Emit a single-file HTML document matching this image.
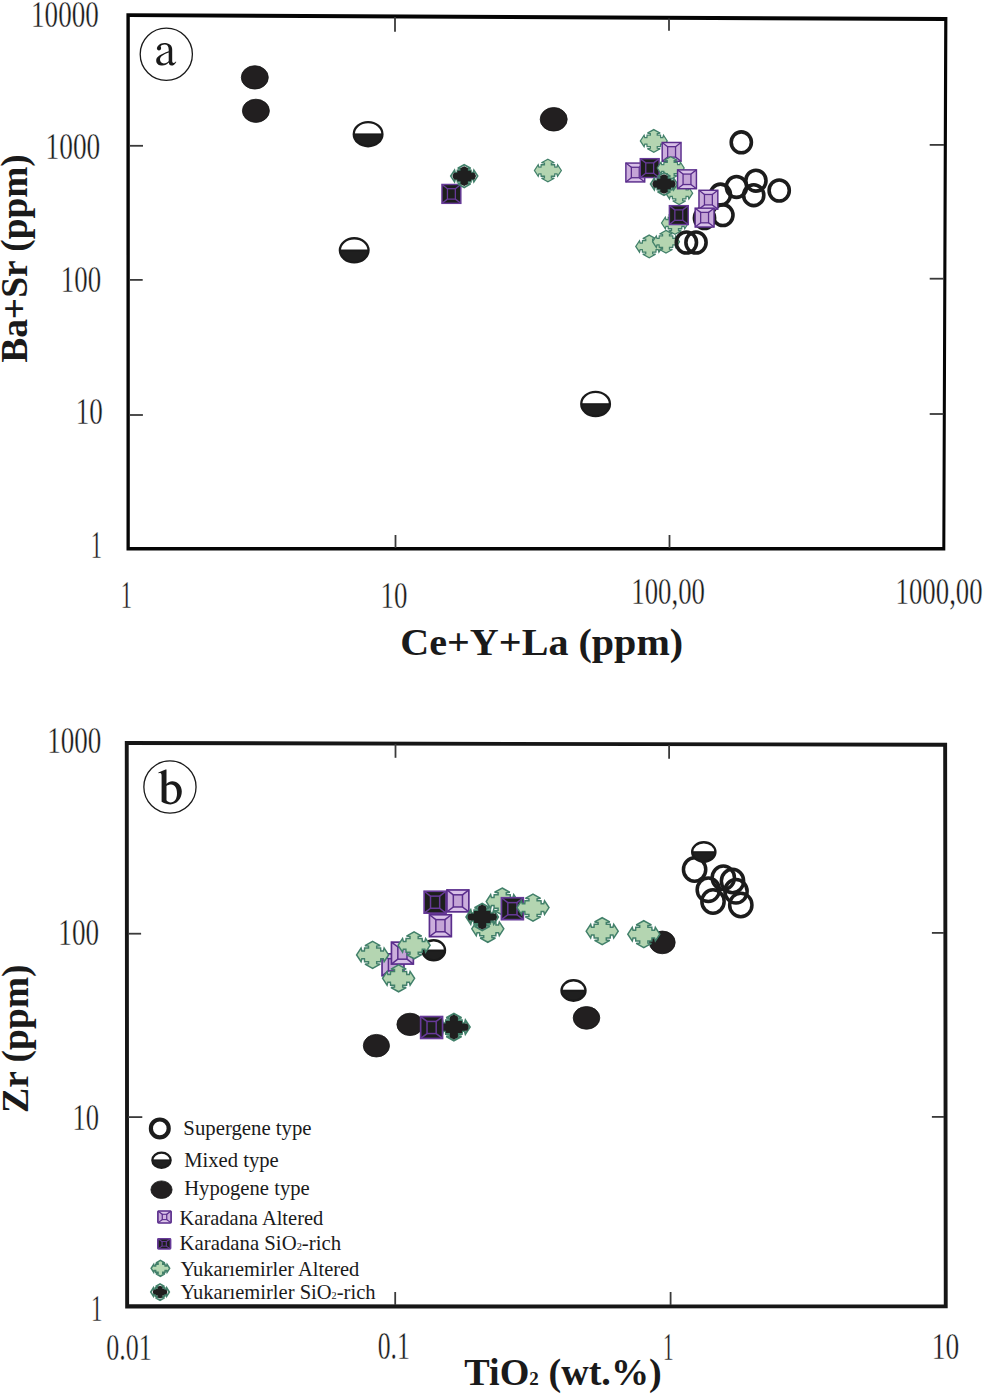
<!DOCTYPE html>
<html><head><meta charset="utf-8"><style>
html,body{margin:0;padding:0;background:#fff;}
svg{display:block;}
text{font-family:"Liberation Serif",serif;font-size:100px;}
</style></head><body>
<svg width="983" height="1394" viewBox="0 0 983 1394">
<rect width="983" height="1394" fill="#ffffff"/>

<defs>
 <g id="ya"><path d="M0.00 -13.48 L7.61 -9.25 L4.10 -8.79 L4.10 -6.84 L8.01 -6.84 L8.21 -3.91 L10.74 -3.91 L11.53 -6.84 L16.01 0.00 L11.53 6.84 L10.74 3.91 L8.21 3.91 L8.01 6.84 L4.10 6.84 L4.10 8.79 L7.61 9.25 L0.00 13.48 L-7.61 9.25 L-4.10 8.79 L-4.10 6.84 L-8.01 6.84 L-8.21 3.91 L-10.74 3.91 L-11.53 6.84 L-16.01 0.00 L-11.53 -6.84 L-10.74 -3.91 L-8.21 -3.91 L-8.01 -6.84 L-4.10 -6.84 L-4.10 -8.79 L-7.61 -9.25Z" fill="#b4d5b1" stroke="#42806a" stroke-width="1.5" stroke-linejoin="miter" stroke-miterlimit="3"/></g>
 <g id="ys"><path d="M0.00 -13.48 L7.61 -9.25 L4.10 -8.79 L4.10 -6.84 L8.01 -6.84 L8.21 -3.91 L10.74 -3.91 L11.53 -6.84 L16.01 0.00 L11.53 6.84 L10.74 3.91 L8.21 3.91 L8.01 6.84 L4.10 6.84 L4.10 8.79 L7.61 9.25 L0.00 13.48 L-7.61 9.25 L-4.10 8.79 L-4.10 6.84 L-8.01 6.84 L-8.21 3.91 L-10.74 3.91 L-11.53 6.84 L-16.01 0.00 L-11.53 -6.84 L-10.74 -3.91 L-8.21 -3.91 L-8.01 -6.84 L-4.10 -6.84 L-4.10 -8.79 L-7.61 -9.25Z" fill="#ffffff" stroke="#42806a" stroke-width="1.9" stroke-miterlimit="3"/><path d="M0.00 -12.50 L4.00 -10.40 L4.00 -6.00 L8.20 -6.00 L8.20 -3.60 L13.40 -3.60 L14.90 0.00 L13.40 3.60 L8.20 3.60 L8.20 6.00 L4.00 6.00 L4.00 10.40 L0.00 12.50 L-4.00 10.40 L-4.00 6.00 L-8.20 6.00 L-8.20 3.60 L-13.40 3.60 L-14.90 0.00 L-13.40 -3.60 L-8.20 -3.60 L-8.20 -6.00 L-4.00 -6.00 L-4.00 -10.40Z" fill="#1f1f1f"/></g>
 <g id="ka">
  <rect x="-11" y="-11" width="22" height="22" fill="#cbaedc"/>
  <path d="M-11 -11 L11 -11 L4.6 -6.1 L-4.6 -6.1Z M-11 11 L11 11 L4.6 6.1 L-4.6 6.1Z" fill="#d8c0e7"/>
  <rect x="-4.6" y="-6.1" width="9.2" height="12.2" fill="#c4a4d6"/>
  <path d="M-11 -11 L-4.6 -6.1 M11 -11 L4.6 -6.1 M11 11 L4.6 6.1 M-11 11 L-4.6 6.1" stroke="#5a2d8c" stroke-width="1.5"/>
  <rect x="-4.6" y="-6.1" width="9.2" height="12.2" fill="none" stroke="#5a2d8c" stroke-width="1.5"/>
  <rect x="-11" y="-11" width="22" height="22" fill="none" stroke="#5a2d8c" stroke-width="1.7"/>
 </g>
 <g id="ks">
  <rect x="-11" y="-11" width="22" height="22" fill="#1d1f1c"/>
  <path d="M-11 -11 L-4.6 -6.1 M11 -11 L4.6 -6.1 M11 11 L4.6 6.1 M-11 11 L-4.6 6.1" stroke="#673a98" stroke-width="1.5"/>
  <rect x="-4.6" y="-6.1" width="9.2" height="12.2" fill="none" stroke="#673a98" stroke-width="1.5"/>
  <rect x="-11" y="-11" width="22" height="22" fill="none" stroke="#673a98" stroke-width="1.7"/>
 </g>
 <g id="yaL"><path d="M0.00 -13.20 L7.45 -9.06 L4.01 -8.61 L4.01 -6.69 L7.84 -6.69 L8.04 -3.83 L10.52 -3.83 L11.29 -6.69 L15.68 0.00 L11.29 6.69 L10.52 3.83 L8.04 3.83 L7.84 6.69 L4.01 6.69 L4.01 8.61 L7.45 9.06 L0.00 13.20 L-7.45 9.06 L-4.01 8.61 L-4.01 6.69 L-7.84 6.69 L-8.04 3.83 L-10.52 3.83 L-11.29 6.69 L-15.68 0.00 L-11.29 -6.69 L-10.52 -3.83 L-8.04 -3.83 L-7.84 -6.69 L-4.01 -6.69 L-4.01 -8.61 L-7.45 -9.06Z" fill="#b6d8b3" stroke="#42806a" stroke-width="2.6" stroke-miterlimit="3"/></g>
 <g id="ysL"><path d="M0.00 -13.20 L7.45 -9.06 L4.01 -8.61 L4.01 -6.69 L7.84 -6.69 L8.04 -3.83 L10.52 -3.83 L11.29 -6.69 L15.68 0.00 L11.29 6.69 L10.52 3.83 L8.04 3.83 L7.84 6.69 L4.01 6.69 L4.01 8.61 L7.45 9.06 L0.00 13.20 L-7.45 9.06 L-4.01 8.61 L-4.01 6.69 L-7.84 6.69 L-8.04 3.83 L-10.52 3.83 L-11.29 6.69 L-15.68 0.00 L-11.29 -6.69 L-10.52 -3.83 L-8.04 -3.83 L-7.84 -6.69 L-4.01 -6.69 L-4.01 -8.61 L-7.45 -9.06Z" fill="#ffffff" stroke="#42806a" stroke-width="2.8" stroke-miterlimit="3"/><path d="M0.00 -10.33 L3.86 -8.57 L3.86 -5.54 L7.22 -5.54 L7.22 -3.61 L10.92 -3.61 L12.43 0.00 L10.92 3.61 L7.22 3.61 L7.22 5.54 L3.86 5.54 L3.86 8.57 L0.00 10.33 L-3.86 8.57 L-3.86 5.54 L-7.22 5.54 L-7.22 3.61 L-10.92 3.61 L-12.43 0.00 L-10.92 -3.61 L-7.22 -3.61 L-7.22 -5.54 L-3.86 -5.54 L-3.86 -8.57Z" fill="#1f1f1f"/></g>
 <g id="ysA"><path d="M0.00 -13.48 L7.61 -9.25 L4.10 -8.79 L4.10 -6.84 L8.01 -6.84 L8.21 -3.91 L10.74 -3.91 L11.53 -6.84 L16.01 0.00 L11.53 6.84 L10.74 3.91 L8.21 3.91 L8.01 6.84 L4.10 6.84 L4.10 8.79 L7.61 9.25 L0.00 13.48 L-7.61 9.25 L-4.10 8.79 L-4.10 6.84 L-8.01 6.84 L-8.21 3.91 L-10.74 3.91 L-11.53 6.84 L-16.01 0.00 L-11.53 -6.84 L-10.74 -3.91 L-8.21 -3.91 L-8.01 -6.84 L-4.10 -6.84 L-4.10 -8.79 L-7.61 -9.25Z" fill="#ffffff" stroke="#42806a" stroke-width="2.0" stroke-miterlimit="3"/><path d="M0.00 -11.69 L4.37 -9.69 L4.37 -6.27 L8.17 -6.27 L8.17 -4.08 L12.35 -4.08 L14.06 0.00 L12.35 4.08 L8.17 4.08 L8.17 6.27 L4.37 6.27 L4.37 9.69 L0.00 11.69 L-4.37 9.69 L-4.37 6.27 L-8.17 6.27 L-8.17 4.08 L-12.35 4.08 L-14.06 0.00 L-12.35 -4.08 L-8.17 -4.08 L-8.17 -6.27 L-4.37 -6.27 L-4.37 -9.69Z" fill="#1f1f1f"/></g>
 <g id="kaL">
  <rect x="-11" y="-11" width="22" height="22" rx="1.5" fill="#cbaedc"/>
  <path d="M-11 -11 L11 -11 L3.7 -4.9 L-3.7 -4.9Z M-11 11 L11 11 L3.7 4.9 L-3.7 4.9Z" fill="#dcc6ea"/>
  <rect x="-3.7" y="-4.9" width="7.4" height="9.8" fill="#d0b4e0"/>
  <path d="M-11 -11 L-3.7 -4.9 M11 -11 L3.7 -4.9 M11 11 L3.7 4.9 M-11 11 L-3.7 4.9" stroke="#5a2d8c" stroke-width="2"/>
  <rect x="-3.7" y="-4.9" width="7.4" height="9.8" fill="none" stroke="#5a2d8c" stroke-width="2"/>
  <rect x="-11" y="-11" width="22" height="22" rx="1.5" fill="none" stroke="#5a2d8c" stroke-width="2.8"/>
 </g>
 <g id="ksL">
  <rect x="-11" y="-11" width="22" height="22" rx="1.5" fill="#1d1f1c"/>
  <path d="M-11 -11 L-3.7 -4.9 M11 -11 L3.7 -4.9 M11 11 L3.7 4.9 M-11 11 L-3.7 4.9" stroke="#673a98" stroke-width="2"/>
  <rect x="-3.7" y="-4.9" width="7.4" height="9.8" fill="none" stroke="#673a98" stroke-width="2"/>
  <rect x="-11" y="-11" width="22" height="22" rx="1.5" fill="none" stroke="#673a98" stroke-width="3"/>
 </g>
</defs>

<path fill-rule="evenodd" fill="#050505" d="M126.4 13.2 L947.4 17.0 L945.3 550.4 L126.5 550.4 Z M129.8 17.1 L944.2 21.0 L942.3 547.0 L129.8 547.0 Z"/>
<path fill-rule="evenodd" fill="#161616" d="M124.8 741.1 L947.1 742.8 L947.7 1308.3 L125.2 1308.5 Z M128.7 744.9 L943.2 746.7 L943.8 1304.6 L129.1 1304.2 Z"/>
<line x1="395.0" y1="17.0" x2="395.0" y2="31.7" stroke="#3a3a3a" stroke-width="1.8"/>
<line x1="669.0" y1="18.5" x2="669.0" y2="30.8" stroke="#3a3a3a" stroke-width="1.8"/>
<line x1="395.5" y1="535.0" x2="395.5" y2="548.0" stroke="#3a3a3a" stroke-width="1.8"/>
<line x1="669.5" y1="535.0" x2="669.5" y2="548.0" stroke="#3a3a3a" stroke-width="1.8"/>
<line x1="129.0" y1="145.8" x2="143.0" y2="145.8" stroke="#3a3a3a" stroke-width="1.8"/>
<line x1="129.0" y1="279.9" x2="142.7" y2="279.9" stroke="#3a3a3a" stroke-width="1.8"/>
<line x1="129.0" y1="415.0" x2="142.9" y2="415.0" stroke="#3a3a3a" stroke-width="1.8"/>
<line x1="929.7" y1="144.9" x2="944.0" y2="144.9" stroke="#3a3a3a" stroke-width="1.8"/>
<line x1="929.7" y1="278.7" x2="944.0" y2="278.7" stroke="#3a3a3a" stroke-width="1.8"/>
<line x1="929.7" y1="414.0" x2="943.5" y2="414.0" stroke="#3a3a3a" stroke-width="1.8"/>
<line x1="395.5" y1="744.0" x2="395.5" y2="757.8" stroke="#3a3a3a" stroke-width="1.8"/>
<line x1="669.1" y1="745.0" x2="669.1" y2="758.7" stroke="#3a3a3a" stroke-width="1.8"/>
<line x1="395.2" y1="1292.0" x2="395.2" y2="1305.0" stroke="#3a3a3a" stroke-width="1.8"/>
<line x1="670.6" y1="1292.0" x2="670.6" y2="1305.0" stroke="#3a3a3a" stroke-width="1.8"/>
<line x1="128.0" y1="933.7" x2="141.1" y2="933.7" stroke="#3a3a3a" stroke-width="1.8"/>
<line x1="128.0" y1="1117.1" x2="142.3" y2="1117.1" stroke="#3a3a3a" stroke-width="1.8"/>
<line x1="931.9" y1="932.9" x2="944.0" y2="932.9" stroke="#3a3a3a" stroke-width="1.8"/>
<line x1="931.9" y1="1116.9" x2="944.0" y2="1116.9" stroke="#3a3a3a" stroke-width="1.8"/>
<circle cx="166.3" cy="54.25" r="26.1" fill="none" stroke="#1a1a1a" stroke-width="1.3"/>
<circle cx="169.95" cy="787.0" r="26.1" fill="none" stroke="#1a1a1a" stroke-width="1.3"/>
<ellipse cx="254.8" cy="77.4" rx="13.50" ry="11.70" fill="#221f20" stroke="#141414" stroke-width="0.8"/>
<ellipse cx="255.9" cy="110.8" rx="13.50" ry="11.60" fill="#221f20" stroke="#141414" stroke-width="0.8"/>
<ellipse cx="553.7" cy="119.3" rx="13.50" ry="11.80" fill="#221f20" stroke="#141414" stroke-width="0.8"/>
<path d="M353.75 134.20 A14.35 12.05 0 0 1 382.45 134.20 Z" fill="#ffffff"/><path d="M353.75 134.20 A14.35 12.05 0 0 0 382.45 134.20 Z" fill="#1f1f1f"/><ellipse cx="368.1" cy="134.2" rx="14.35" ry="12.05" fill="none" stroke="#1a1a1a" stroke-width="2.30"/><line x1="353.75" y1="134.20" x2="382.45" y2="134.20" stroke="#1a1a1a" stroke-width="1.6"/>
<path d="M339.85 250.30 A14.35 12.05 0 0 1 368.55 250.30 Z" fill="#ffffff"/><path d="M339.85 250.30 A14.35 12.05 0 0 0 368.55 250.30 Z" fill="#1f1f1f"/><ellipse cx="354.2" cy="250.3" rx="14.35" ry="12.05" fill="none" stroke="#1a1a1a" stroke-width="2.30"/><line x1="339.85" y1="250.30" x2="368.55" y2="250.30" stroke="#1a1a1a" stroke-width="1.6"/>
<path d="M581.25 404.00 A14.35 12.05 0 0 1 609.95 404.00 Z" fill="#ffffff"/><path d="M581.25 404.00 A14.35 12.05 0 0 0 609.95 404.00 Z" fill="#1f1f1f"/><ellipse cx="595.6" cy="404.0" rx="14.35" ry="12.05" fill="none" stroke="#1a1a1a" stroke-width="2.30"/><line x1="581.25" y1="404.00" x2="609.95" y2="404.00" stroke="#1a1a1a" stroke-width="1.6"/>
<use href="#ks" xlink:href="#ks" transform="translate(451.40 193.90) scale(0.857 0.857)"/>
<use href="#ysA" xlink:href="#ysA" transform="translate(464.20 176.10) scale(0.840 0.840)"/>
<use href="#ya" xlink:href="#ya" transform="translate(547.90 170.50) scale(0.840 0.840)"/>
<use href="#ya" xlink:href="#ya" transform="translate(653.80 140.90) scale(0.840 0.840)"/>
<use href="#ka" xlink:href="#ka" transform="translate(671.60 151.90) scale(0.857 0.857)"/>
<use href="#ka" xlink:href="#ka" transform="translate(635.30 172.50) scale(0.857 0.857)"/>
<use href="#ks" xlink:href="#ks" transform="translate(649.70 168.10) scale(0.857 0.857)"/>
<use href="#ya" xlink:href="#ya" transform="translate(670.70 168.00) scale(0.840 0.840)"/>
<use href="#ya" xlink:href="#ya" transform="translate(679.20 193.20) scale(0.840 0.840)"/>
<use href="#ysA" xlink:href="#ysA" transform="translate(664.00 184.00) scale(0.840 0.840)"/>
<use href="#ka" xlink:href="#ka" transform="translate(687.00 179.30) scale(0.857 0.857)"/>
<use href="#ya" xlink:href="#ya" transform="translate(675.00 223.00) scale(0.840 0.840)"/>
<use href="#ya" xlink:href="#ya" transform="translate(649.20 246.40) scale(0.840 0.840)"/>
<use href="#ya" xlink:href="#ya" transform="translate(666.00 241.70) scale(0.840 0.840)"/>
<ellipse cx="741.3" cy="142.3" rx="10.10" ry="10.45" fill="none" stroke="#1c1c1c" stroke-width="3.60"/>
<ellipse cx="720.4" cy="194.6" rx="10.10" ry="10.45" fill="none" stroke="#1c1c1c" stroke-width="3.60"/>
<ellipse cx="736.5" cy="186.9" rx="10.10" ry="10.45" fill="none" stroke="#1c1c1c" stroke-width="3.60"/>
<ellipse cx="755.9" cy="180.7" rx="10.10" ry="10.45" fill="none" stroke="#1c1c1c" stroke-width="3.60"/>
<ellipse cx="753.7" cy="195.2" rx="10.10" ry="10.45" fill="none" stroke="#1c1c1c" stroke-width="3.60"/>
<ellipse cx="779.2" cy="190.5" rx="10.10" ry="10.45" fill="none" stroke="#1c1c1c" stroke-width="3.60"/>
<ellipse cx="722.9" cy="215.1" rx="10.10" ry="10.45" fill="none" stroke="#1c1c1c" stroke-width="3.60"/>
<ellipse cx="704.5" cy="218.0" rx="10.10" ry="10.45" fill="none" stroke="#1c1c1c" stroke-width="3.60"/>
<ellipse cx="686.4" cy="242.5" rx="10.10" ry="10.45" fill="none" stroke="#1c1c1c" stroke-width="3.60"/>
<ellipse cx="696.0" cy="242.5" rx="10.10" ry="10.45" fill="none" stroke="#1c1c1c" stroke-width="3.60"/>
<use href="#ks" xlink:href="#ks" transform="translate(678.80 215.10) scale(0.857 0.857)"/>
<use href="#ka" xlink:href="#ka" transform="translate(708.40 199.70) scale(0.857 0.857)"/>
<use href="#ka" xlink:href="#ka" transform="translate(704.60 217.60) scale(0.857 0.857)"/>
<ellipse cx="376.4" cy="1045.7" rx="13.10" ry="11.30" fill="#221f20" stroke="#141414" stroke-width="0.8"/>
<ellipse cx="410.0" cy="1024.4" rx="13.10" ry="11.20" fill="#221f20" stroke="#141414" stroke-width="0.8"/>
<ellipse cx="586.5" cy="1017.9" rx="13.30" ry="11.35" fill="#221f20" stroke="#141414" stroke-width="0.8"/>
<ellipse cx="662.3" cy="942.4" rx="12.90" ry="11.35" fill="#221f20" stroke="#141414" stroke-width="0.8"/>
<path d="M561.45 990.50 A12.05 10.25 0 0 1 585.55 990.50 Z" fill="#ffffff"/><path d="M561.45 990.50 A12.05 10.25 0 0 0 585.55 990.50 Z" fill="#1f1f1f"/><ellipse cx="573.5" cy="990.5" rx="12.05" ry="10.25" fill="none" stroke="#1a1a1a" stroke-width="2.30"/><line x1="561.45" y1="990.50" x2="585.55" y2="990.50" stroke="#1a1a1a" stroke-width="1.6"/>
<path d="M422.35 950.30 A11.35 10.05 0 0 1 445.05 950.30 Z" fill="#ffffff"/><path d="M422.35 950.30 A11.35 10.05 0 0 0 445.05 950.30 Z" fill="#1f1f1f"/><ellipse cx="433.7" cy="950.3" rx="11.35" ry="10.05" fill="none" stroke="#1a1a1a" stroke-width="2.30"/><line x1="422.35" y1="950.30" x2="445.05" y2="950.30" stroke="#1a1a1a" stroke-width="1.6"/>
<use href="#ka" xlink:href="#ka" transform="translate(393.00 964.80) scale(0.996 0.996)"/>
<use href="#ya" xlink:href="#ya" transform="translate(372.60 954.90) scale(1.000 1.000)"/>
<use href="#ka" xlink:href="#ka" transform="translate(402.40 953.10) scale(0.996 0.996)"/>
<use href="#ya" xlink:href="#ya" transform="translate(414.10 945.30) scale(1.000 1.000)"/>
<use href="#ya" xlink:href="#ya" transform="translate(398.60 978.30) scale(1.000 1.000)"/>
<use href="#ks" xlink:href="#ks" transform="translate(435.10 902.20) scale(0.996 0.996)"/>
<use href="#ka" xlink:href="#ka" transform="translate(457.90 900.90) scale(0.996 0.996)"/>
<use href="#ka" xlink:href="#ka" transform="translate(440.40 925.70) scale(0.996 0.996)"/>
<use href="#ya" xlink:href="#ya" transform="translate(502.20 901.50) scale(1.000 1.000)"/>
<use href="#ya" xlink:href="#ya" transform="translate(487.80 928.80) scale(1.000 1.000)"/>
<use href="#ys" xlink:href="#ys" transform="translate(482.20 917.00) scale(1.000 1.000)"/>
<use href="#ks" xlink:href="#ks" transform="translate(512.40 908.70) scale(0.996 0.996)"/>
<use href="#ya" xlink:href="#ya" transform="translate(533.00 907.60) scale(1.000 1.000)"/>
<use href="#ys" xlink:href="#ys" transform="translate(453.90 1027.10) scale(1.000 1.000)"/>
<use href="#ks" xlink:href="#ks" transform="translate(431.60 1027.50) scale(0.996 0.996)"/>
<use href="#ya" xlink:href="#ya" transform="translate(602.20 931.20) scale(1.000 1.000)"/>
<use href="#ya" xlink:href="#ya" transform="translate(643.80 934.20) scale(1.000 1.000)"/>
<ellipse cx="694.6" cy="869.5" rx="11.15" ry="11.75" fill="none" stroke="#1c1c1c" stroke-width="3.50"/>
<ellipse cx="708.3" cy="889.8" rx="11.15" ry="11.75" fill="none" stroke="#1c1c1c" stroke-width="3.50"/>
<ellipse cx="713.0" cy="901.5" rx="11.15" ry="11.75" fill="none" stroke="#1c1c1c" stroke-width="3.50"/>
<ellipse cx="723.3" cy="877.8" rx="11.15" ry="11.75" fill="none" stroke="#1c1c1c" stroke-width="3.50"/>
<ellipse cx="732.5" cy="881.0" rx="11.15" ry="11.75" fill="none" stroke="#1c1c1c" stroke-width="3.50"/>
<ellipse cx="736.0" cy="891.3" rx="11.15" ry="11.75" fill="none" stroke="#1c1c1c" stroke-width="3.50"/>
<ellipse cx="740.8" cy="904.9" rx="11.15" ry="11.75" fill="none" stroke="#1c1c1c" stroke-width="3.50"/>
<path d="M692.15 852.00 A11.65 9.75 0 0 1 715.45 852.00 Z" fill="#ffffff"/><path d="M692.15 852.00 A11.65 9.75 0 0 0 715.45 852.00 Z" fill="#1f1f1f"/><ellipse cx="703.8" cy="852.0" rx="11.65" ry="9.75" fill="none" stroke="#1a1a1a" stroke-width="2.30"/><line x1="692.15" y1="852.00" x2="715.45" y2="852.00" stroke="#1a1a1a" stroke-width="1.6"/>
<ellipse cx="159.8" cy="1128.4" rx="8.90" ry="8.90" fill="none" stroke="#1c1c1c" stroke-width="4.20"/>
<path d="M152.35 1160.20 A9.15 7.55 0 0 1 170.65 1160.20 Z" fill="#ffffff"/><path d="M152.35 1160.20 A9.15 7.55 0 0 0 170.65 1160.20 Z" fill="#1f1f1f"/><ellipse cx="161.5" cy="1160.2" rx="9.15" ry="7.55" fill="none" stroke="#1a1a1a" stroke-width="2.30"/><line x1="152.35" y1="1160.20" x2="170.65" y2="1160.20" stroke="#1a1a1a" stroke-width="1.6"/>
<ellipse cx="161.5" cy="1189.7" rx="10.60" ry="8.80" fill="#221f20" stroke="#141414" stroke-width="0.8"/>
<use href="#kaL" xlink:href="#kaL" transform="translate(164.50 1216.95) scale(0.600 0.544)"/>
<use href="#ksL" xlink:href="#ksL" transform="translate(164.20 1243.85) scale(0.576 0.468)"/>
<use href="#yaL" xlink:href="#yaL" transform="translate(160.40 1268.35) scale(0.590 0.600)"/>
<use href="#ysL" xlink:href="#ysL" transform="translate(160.05 1292.10) scale(0.590 0.620)"/>
<text transform="translate(31.06 26.54) scale(0.2709 0.3794)" font-weight="normal" fill="#1a1a1a" stroke="#ffffff" stroke-width="0.9">10000</text>
<text transform="translate(45.54 159.23) scale(0.2738 0.3838)" font-weight="normal" fill="#1a1a1a" stroke="#ffffff" stroke-width="0.9">1000</text>
<text transform="translate(60.78 291.64) scale(0.2686 0.3794)" font-weight="normal" fill="#1a1a1a" stroke="#ffffff" stroke-width="0.9">100</text>
<text transform="translate(75.66 424.44) scale(0.2713 0.3809)" font-weight="normal" fill="#1a1a1a" stroke="#ffffff" stroke-width="0.9">10</text>
<text transform="translate(90.77 558.00) scale(0.2257 0.4045)" font-weight="normal" fill="#1a1a1a" stroke="#ffffff" stroke-width="0.9">1</text>
<text transform="translate(120.67 607.50) scale(0.2257 0.3955)" font-weight="normal" fill="#1a1a1a" stroke="#ffffff" stroke-width="0.9">1</text>
<text transform="translate(380.58 607.63) scale(0.2690 0.3868)" font-weight="normal" fill="#1a1a1a" stroke="#ffffff" stroke-width="0.9">10</text>
<text transform="translate(631.29 604.34) scale(0.2679 0.3840)" font-weight="normal" fill="#1a1a1a" stroke="#ffffff" stroke-width="0.9">100,00</text>
<text transform="translate(895.59 604.42) scale(0.2679 0.3852)" font-weight="normal" fill="#1a1a1a" stroke="#ffffff" stroke-width="0.9">1000,00</text>
<text transform="translate(47.16 753.04) scale(0.2706 0.3824)" font-weight="normal" fill="#1a1a1a" stroke="#ffffff" stroke-width="0.9">1000</text>
<text transform="translate(58.36 945.14) scale(0.2715 0.3809)" font-weight="normal" fill="#1a1a1a" stroke="#ffffff" stroke-width="0.9">100</text>
<text transform="translate(72.40 1129.84) scale(0.2667 0.3824)" font-weight="normal" fill="#1a1a1a" stroke="#ffffff" stroke-width="0.9">10</text>
<text transform="translate(90.94 1320.60) scale(0.2286 0.3879)" font-weight="normal" fill="#1a1a1a" stroke="#ffffff" stroke-width="0.9">1</text>
<text transform="translate(106.16 1359.73) scale(0.2606 0.3868)" font-weight="normal" fill="#1a1a1a" stroke="#ffffff" stroke-width="0.9">0.01</text>
<text transform="translate(377.67 1359.21) scale(0.2574 0.3956)" font-weight="normal" fill="#1a1a1a" stroke="#ffffff" stroke-width="0.9">0.1</text>
<text transform="translate(663.00 1360.10) scale(0.2114 0.3924)" font-weight="normal" fill="#1a1a1a" stroke="#ffffff" stroke-width="0.9">1</text>
<text transform="translate(931.73 1358.94) scale(0.2747 0.3809)" font-weight="normal" fill="#1a1a1a" stroke="#ffffff" stroke-width="0.9">10</text>
<text transform="translate(400.29 655.40) scale(0.4010 0.3800)" font-weight="bold" fill="#1a1a1a">Ce+Y+La (ppm)</text>
<text transform="translate(464.34 1384.70) scale(0.3814 0.3780)" font-weight="bold" fill="#1a1a1a">TiO<tspan font-size="50">2</tspan> (wt.%)</text>
<text transform="translate(27.00 362.75) rotate(-90) scale(0.3739 0.3830)" font-weight="bold" fill="#1a1a1a">Ba+Sr (ppm)</text>
<text transform="translate(27.90 1112.88) rotate(-90) scale(0.3756 0.3830)" font-weight="bold" fill="#1a1a1a">Zr (ppm)</text>
<text transform="translate(183.34 1135.10) scale(0.2079 0.2040)" fill="#1a1a1a">Supergene type</text>
<text transform="translate(184.18 1167.00) scale(0.2066 0.2040)" fill="#1a1a1a">Mixed type</text>
<text transform="translate(184.18 1195.00) scale(0.2065 0.2040)" fill="#1a1a1a">Hypogene type</text>
<text transform="translate(179.59 1224.70) scale(0.2047 0.2000)" fill="#1a1a1a">Karadana Altered</text>
<text transform="translate(179.58 1250.40) scale(0.2079 0.2000)" fill="#1a1a1a">Karadana SiO<tspan font-size="50">2</tspan>-rich</text>
<text transform="translate(180.50 1275.50) scale(0.2045 0.2000)" fill="#1a1a1a">Yukarıemirler Altered</text>
<text transform="translate(180.49 1299.20) scale(0.2054 0.2000)" fill="#1a1a1a">Yukarıemirler SiO<tspan font-size="50">2</tspan>-rich</text>
<path transform="translate(153 40)" fill="#1a1a1a" fill-rule="evenodd" d="M3.9 8.6 C3.9 6.0 7.0 2.9 11.2 2.9 C16.2 2.9 19.2 5.2 19.2 9.5 L19.2 21.0 C19.2 22.3 19.8 22.9 20.6 22.9 C21.5 22.9 22.3 22.2 22.9 21.5 L23.3 21.9 C22.0 24.3 20.3 25.6 18.4 25.6 C16.8 25.6 16.0 24.6 15.8 22.6 C14.0 24.6 11.9 25.6 9.4 25.6 C5.7 25.6 3.2 23.6 3.2 20.4 C3.2 16.6 7.6 14.2 15.7 11.2 L15.7 9.6 C15.7 6.3 14.3 4.5 11.6 4.5 C9.7 4.5 8.3 5.2 7.6 6.4 C8.0 6.9 8.1 7.4 8.1 8.3 C8.1 9.6 7.2 10.5 6.0 10.5 C4.8 10.5 3.9 9.7 3.9 8.6 Z M15.7 12.5 C10.0 14.6 7.0 16.6 7.0 19.6 C7.0 21.9 8.6 23.5 10.8 23.5 C12.8 23.5 14.7 22.3 15.7 21.0 Z"/>
<path transform="translate(138 755)" fill="#1a1a1a" fill-rule="evenodd" d="M20.4 17.6 L27.6 14.5 L28.5 14.5 L28.5 28.9 C30.0 27.2 32.0 26.3 34.2 26.3 C39.7 26.3 43.8 30.8 43.8 36.6 C43.8 43.8 38.8 49.4 32.4 49.4 C29.6 49.4 26.8 48.6 23.6 46.8 L23.6 20.4 C23.6 18.6 22.8 18.0 21.6 18.0 L20.4 18.2 Z M28.5 31.0 L28.5 45.2 C29.6 46.6 31.0 47.4 32.6 47.4 C36.6 47.4 39.0 43.6 39.0 38.4 C39.0 33.0 36.8 29.5 33.2 29.5 C31.4 29.5 29.8 30.0 28.5 31.0 Z"/>
</svg>
</body></html>
